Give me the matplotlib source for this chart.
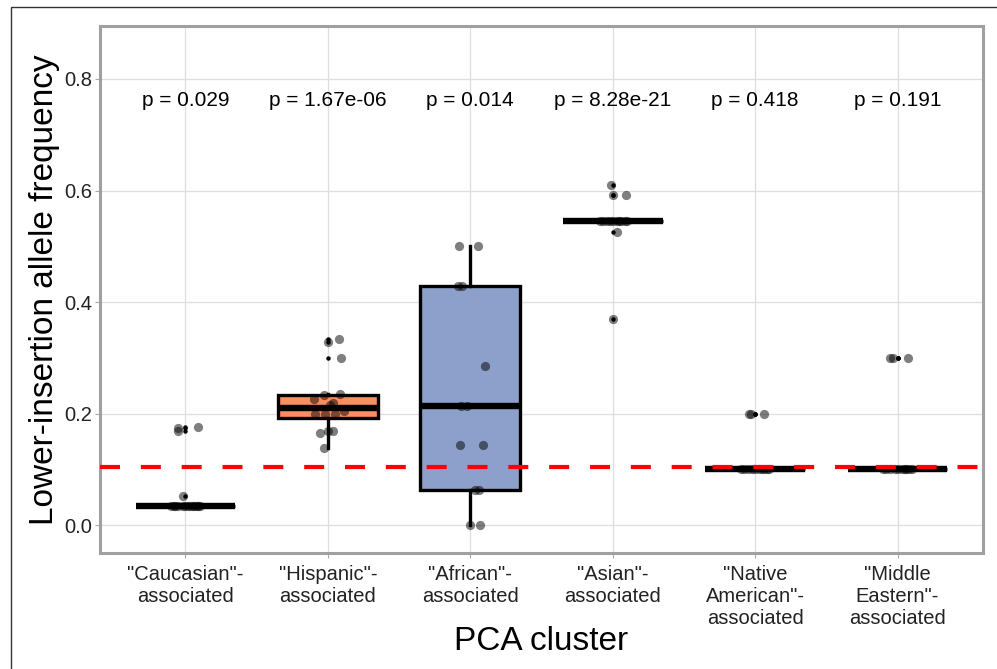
import numpy as np
import matplotlib
matplotlib.use("Agg")
import matplotlib.pyplot as plt
from matplotlib.patches import Rectangle

plt.rcParams['font.family'] = ['Liberation Sans', 'DejaVu Sans']

# categories and annotations
clusters = ['"Caucasian"-\nassociated', '"Hispanic"-\nassociated', '"African"-\nassociated',
            '"Asian"-\nassociated', '"Native\nAmerican"-\nassociated', '"Middle\nEastern"-\nassociated']
p_labels = ["p = 0.029", "p = 1.67e-06", "p = 0.014", "p = 8.28e-21", "p = 0.418", "p = 0.191"]
threshold = 0.105
box_colors = ["#66C2A5", "#FC8D62", "#8DA0CB", "#E78AC3", "#A6D854", "#FFD92F"]

# allele frequency per sample
caucasian = [0.035]*13 + [0.052, 0.169, 0.175, 0.176]
hispanic = [0.138, 0.165, 0.168, 0.168, 0.20, 0.20, 0.20, 0.205, 0.215, 0.219,
            0.226, 0.233, 0.235, 0.30, 0.328, 0.334]
african = [0.0, 0.0, 0.0625, 0.0625, 0.143, 0.143, 0.214, 0.214, 0.286,
           0.429, 0.429, 0.5, 0.5]
asian = [0.37, 0.525] + [0.545]*10 + [0.592, 0.592, 0.61]
native_american = [0.1]*10 + [0.2, 0.2, 0.2]
middle_eastern = [0.1]*10 + [0.3, 0.3, 0.3]

# horizontal jitter of each point (category units)
jit_caucasian = [-0.08, 0.03, 0.1, -0.05, 0.0, 0.06, -0.1, 0.08, -0.02, 0.05, -0.07, 0.02, 0.09,
                 -0.015, -0.05, -0.05, 0.085]
jit_hispanic = [-0.03, -0.056, 0.035, 0.0, -0.09, -0.02, 0.05, 0.11, 0.014, 0.035,
                -0.098, -0.03, 0.084, 0.09, 0.0, 0.077]
jit_african = [0.0, 0.07, 0.035, 0.063, -0.07, 0.09, -0.065, -0.025, 0.1,
               -0.085, -0.06, -0.077, 0.056]
jit_asian = [0.0, 0.03, -0.09, -0.04, 0.0, 0.03, 0.085, -0.065, 0.06, -0.02, 0.1, 0.045,
             0.0, 0.095, -0.01]
jit_native = [-0.1, -0.05, 0.0, 0.05, 0.1, -0.08, 0.03, 0.08, -0.02, 0.06, -0.04, -0.03, 0.06]
jit_middle = [-0.1, -0.05, 0.0, 0.05, 0.1, -0.08, 0.03, 0.08, -0.02, 0.06, -0.055, -0.035, 0.07]

data = [caucasian, hispanic, african, asian, native_american, middle_eastern]
jitters = [jit_caucasian, jit_hispanic, jit_african, jit_asian, jit_native, jit_middle]
positions = np.arange(1, len(data)+1)

fig = plt.figure(figsize=(9.97, 6.69), dpi=100)
ax = fig.add_axes([100/997, 1-553/669, 883/997, 527/669])

bp = ax.boxplot(data, positions=positions, widths=0.7, patch_artist=True, whis=1.5,
                showcaps=False, zorder=3,
                boxprops=dict(linewidth=2.4, edgecolor='black'),
                medianprops=dict(color='black', linewidth=4.6, solid_capstyle='butt'),
                whiskerprops=dict(color='black', linewidth=2.4),
                flierprops=dict(marker='o', markersize=3.2, markerfacecolor='black',
                                markeredgecolor='none'))
for patch, c in zip(bp['boxes'], box_colors):
    patch.set_facecolor(c)

for pos, vals, jit in zip(positions, data, jitters):
    ax.scatter(pos + np.array(jit), vals, s=44, color='black', alpha=0.5, lw=0, zorder=4)

ax.axhline(threshold, color='red', lw=3, linestyle=(0, (4.8, 5.0)), zorder=5)

for pos, lab in zip(positions, p_labels):
    ax.text(pos, 0.762, lab, ha='center', va='center', fontsize=15, color='black')

ax.set_xlim(0.4, 6.6)
ax.set_ylim(-0.05, 0.895)
ax.set_xticks(positions)
ax.set_xticklabels(clusters, fontsize=14.5, color='#222222', linespacing=1.18)
ax.set_yticks([0.0, 0.2, 0.4, 0.6, 0.8])
ax.set_yticklabels(["0.0", "0.2", "0.4", "0.6", "0.8"], fontsize=14.5, color='#222222')
ax.tick_params(axis='both', length=3.5, width=0.8, color='#aaaaaa', pad=2)
ax.tick_params(axis='x', pad=5.5)
ax.grid(True, color='#dedede', lw=0.9, zorder=0)
ax.set_axisbelow(True)
for sp in ax.spines.values():
    sp.set_color('#a0a0a0')
    sp.set_linewidth(2.2)

ax.set_ylabel("Lower-insertion allele frequency", fontsize=24)
ax.yaxis.set_label_coords(-0.045, 0.5)
ax.set_xlabel("PCA cluster", fontsize=24)
ax.xaxis.set_label_coords(0.5, -0.138)

# outer frame, only its left and top edges fall inside the picture
fig.patches.append(Rectangle((11/997, -0.1), 1.2, 1.1 - 7/669, transform=fig.transFigure,
                             fill=False, edgecolor='#333333', lw=1.0))

fig.savefig("out.png", dpi=100)
